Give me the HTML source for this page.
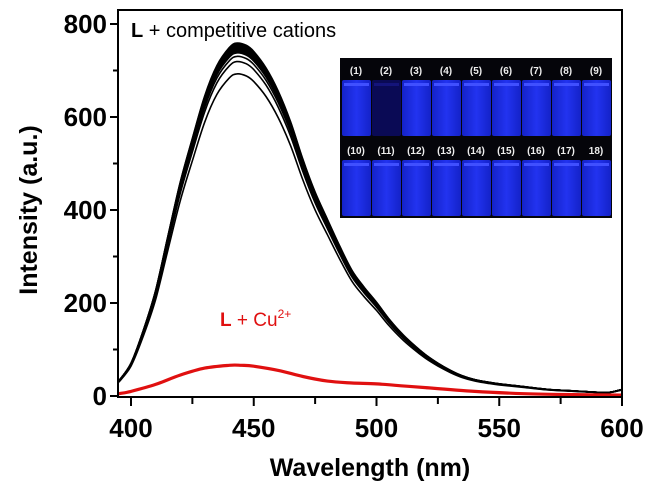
<!DOCTYPE html>
<html><head><meta charset="utf-8"><style>
body{margin:0;background:#fff;}
svg text{font-family:"Liberation Sans",Arial,sans-serif;}
</style></head><body>
<svg id="chart" width="652" height="495" viewBox="0 0 652 495" xmlns="http://www.w3.org/2000/svg">
<defs>
<linearGradient id="vg" x1="0" x2="1" y1="0" y2="0"><stop offset="0" stop-color="#1422c8"/><stop offset="0.5" stop-color="#2233f0"/><stop offset="1" stop-color="#1422c8"/></linearGradient>
</defs>
<rect x="0" y="0" width="652" height="495" fill="#fff"/>
<g id="series"></g>
<g id="inset"></g>
<rect x="118" y="10" width="504" height="387" fill="none" stroke="#000" stroke-width="2"/>
<g id="axes"></g>
<text x="131" y="37" font-size="20" fill="#000"><tspan font-weight="bold">L</tspan> + competitive cations</text>
<text x="220" y="326" font-size="19" fill="#e01010"><tspan font-weight="bold">L</tspan> + Cu<tspan dy="-8" font-size="12">2+</tspan></text>
<text x="370" y="476" font-size="25" font-weight="bold" text-anchor="middle">Wavelength (nm)</text>
<text transform="translate(37,210) rotate(-90)" font-size="25" font-weight="bold" text-anchor="middle">Intensity (a.u.)</text>
</svg>
<script>
const wavelengths=[395,400,405,410,415,420,425,430,435,440,443,447,450,455,460,465,470,475,480,485,490,495,500,505,510,515,520,525,530,535,540,545,550,560,570,580,590,595,600];
const baseIntensity=[32,70,140,225,340,455,550,640,705,743,753,748,735,700,650,585,505,435,377,320,268,232,200,165,135,110,88,70,55,43,35,30,26,20,14,11,8,8,14];
const seriesScales=[1.008,1.005,1.003,1.0,0.998,0.995,0.993,0.99,0.988,0.985,0.983,0.98,0.97,0.955,0.92];
const redWavelengths=[395,400,410,420,430,440,445,450,460,470,480,490,500,510,520,540,560,580,600];
const redIntensity=[5,10,25,45,60,66,66,64,55,42,32,28,26,22,18,10,5,3,2];
const xTicks=[400,450,500,550,600];
const yTicks=[0,200,400,600,800];
const NS="http://www.w3.org/2000/svg";
const X=v=>131+(v-400)*2.455;
const Y=v=>396-v*0.465;
const ser=document.getElementById('series');
function smooth(pts){
  let d='M'+pts[0][0].toFixed(1)+','+pts[0][1].toFixed(1);
  for(let i=0;i<pts.length-1;i++){
    const p0=pts[i-1]||pts[i],p1=pts[i],p2=pts[i+1],p3=pts[i+2]||p2;
    const c1=[p1[0]+(p2[0]-p0[0])/6,p1[1]+(p2[1]-p0[1])/6];
    const c2=[p2[0]-(p3[0]-p1[0])/6,p2[1]-(p3[1]-p1[1])/6];
    d+='C'+c1.map(v=>v.toFixed(1))+' '+c2.map(v=>v.toFixed(1))+' '+p2[0].toFixed(1)+','+p2[1].toFixed(1);
  }
  return d;
}
function path(xs,ys,color,w,name){
  const p=document.createElementNS(NS,'path');
  p.setAttribute('d',smooth(xs.map((x,i)=>[X(x),Y(ys[i])])));
  p.setAttribute('fill','none');p.setAttribute('stroke',color);p.setAttribute('stroke-width',w);
  p.setAttribute('stroke-linejoin','round');
  
  
  ser.appendChild(p);
}
seriesScales.forEach((s,i)=>path(wavelengths,baseIntensity.map(v=>v*s),'#000',1.6,'spectrum-cation-'+(i+1)));
path(redWavelengths,redIntensity,'#e01010',3.2,'spectrum-copper');
const ax=document.getElementById('axes');
function el(t,a,name,txt){const e=document.createElementNS(NS,t);for(const k in a)e.setAttribute(k,a[k]);
  
  
  if(txt!==undefined)e.textContent=txt;ax.appendChild(e);return e;}
for(let v=400;v<=600;v+=25){const big=v%50===0;
  el('line',{x1:X(v),x2:X(v),y1:397,y2:big?406:404,stroke:'#000','stroke-width':2},'x-tick');}
xTicks.forEach(v=>el('text',{x:X(v),y:437,'font-size':26,'font-weight':'bold','text-anchor':'middle'},'x-tick-label',v));
for(let v=0;v<=800;v+=100){const big=v%200===0;
  el('line',{x1:big?110:113,x2:118,y1:Y(v),y2:Y(v),stroke:'#000','stroke-width':2},'y-tick');}
yTicks.forEach(v=>el('text',{x:107,y:Y(v)+9,'font-size':26,'font-weight':'bold','text-anchor':'end'},'y-tick-label',v));
const ins=document.getElementById('inset');
function iel(t,a,name,txt){const e=document.createElementNS(NS,t);for(const k in a)e.setAttribute(k,a[k]);
  
  
  if(txt!==undefined)e.textContent=txt;ins.appendChild(e);return e;}
iel('rect',{x:340,y:58,width:272,height:160,fill:'#05050a'},'inset-background');
const labels=[['(1)','(2)','(3)','(4)','(5)','(6)','(7)','(8)','(9)'],['(10)','(11)','(12)','(13)','(14)','(15)','(16)','(17)','18)']];
labels.forEach((row,r)=>{
  const top=r?160:80;
  row.forEach((lab,i)=>{
    const x=342+i*30;
    const dark=(r===0&&i===1);
    iel('rect',{x:x,y:top,width:29,height:56,rx:2,fill:dark?'#0a0a55':'url(#vg)'},'vial');
    iel('rect',{x:x+2,y:top+3,width:25,height:3,fill:dark?'#14147a':'#4050ff'},'vial-rim');
    iel('text',{x:x+14,y:top-6,'font-size':10,'font-weight':'bold',fill:'#eee','text-anchor':'middle'},'vial-label',lab);
  });
});
</script>
</body></html>
